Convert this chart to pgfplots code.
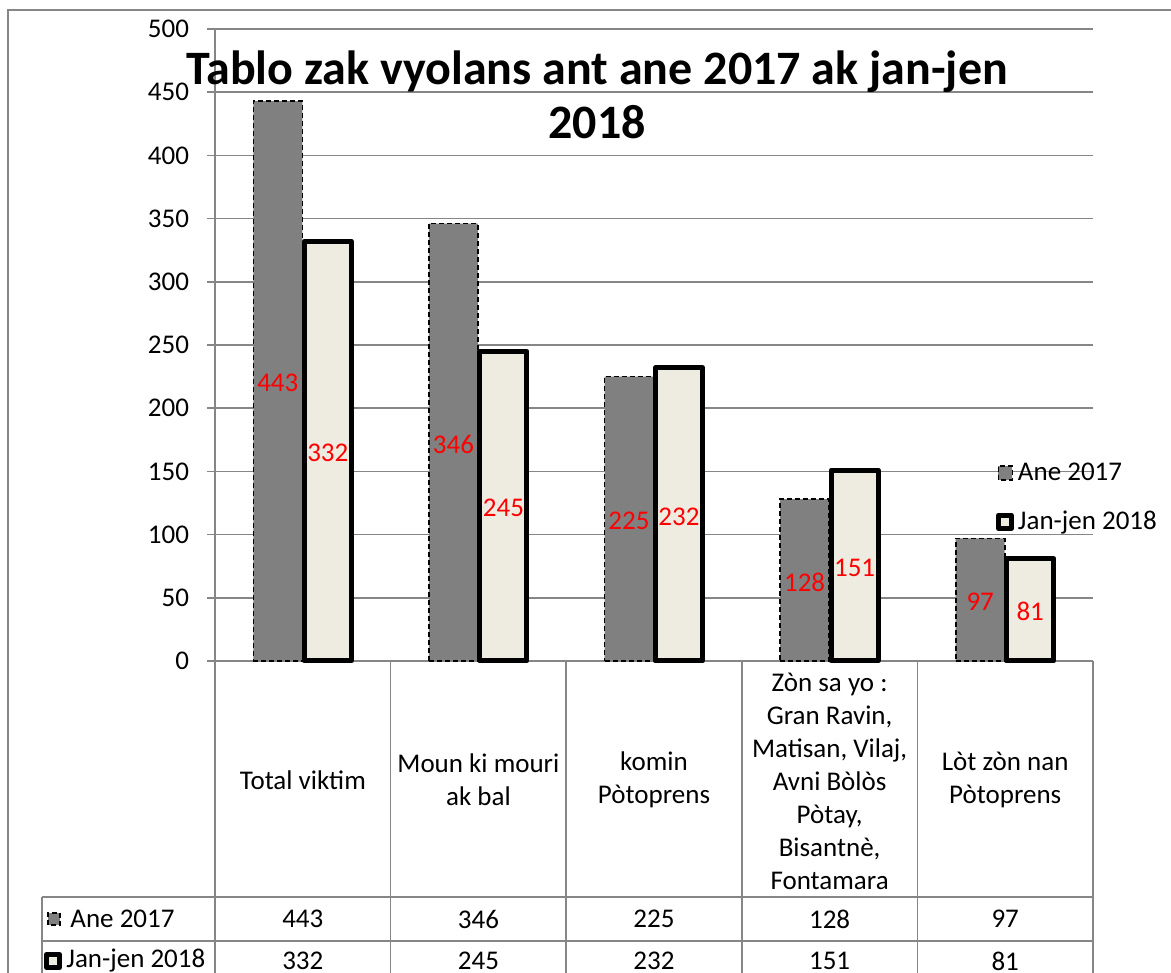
\documentclass[border=0pt]{standalone}
\usepackage{pgfplots}
\pgfplotsset{compat=1.18}
\usepackage{fontspec}
\setmainfont{Carlito}
\definecolor{gridgray}{RGB}{134,134,134}
\definecolor{bargray}{RGB}{128,128,128}
\definecolor{cream}{RGB}{238,236,225}
\newcommand{\tf}{\fontsize{13.5}{16.5}\selectfont}
\pgfplotsset{
  grayleg/.style={legend image code/.code={\draw[##1] (0pt,-3.5pt) rectangle (7pt,3.5pt);}},
  creamleg/.style={legend image code/.code={\draw[##1] (0pt,-3.25pt) rectangle (6.5pt,3.25pt);}},
}
\begin{document}
\begin{tikzpicture}[x=1pt,y=1pt]
\path[use as bounding box] (0,0) rectangle (585.5,486.5);
\draw[gridgray, line width=0.8pt] (4,-20) -- (4,481.5) -- (620,481.5);
\begin{axis}[
  at={(107.5pt,156pt)}, anchor=south west,
  scale only axis, width=439pt, height=316pt,
  xmin=-0.5, xmax=4.5, ymin=0, ymax=500,
  ytick={0,50,...,500}, xtick=\empty,
  axis lines=left, axis line style={-, draw=gridgray, line width=0.8pt},
  ymajorgrids, grid style={draw=gridgray, line width=0.8pt},
  tick style={draw=gridgray, line width=0.8pt},
  tick align=outside, major tick length=4pt,
  /pgf/number format/assume math mode=true,
  yticklabel style={font=\tf, xshift=-5.5pt},
  clip=false,
  ybar, bar width=24pt,
  nodes near coords,
  visualization depends on={y \as \rawy},
  every node near coord/.append style={font=\tf, text=red, anchor=center, yshift={-0.316*\rawy-1}},
  legend style={at={(0.889,0.321)}, anchor=north west, draw=none, fill=none, font=\tf, row sep=10pt, inner sep=0pt},
  legend cell align=left,
]
\addplot[fill=bargray, draw=black, line width=0.8pt, dash pattern=on 2.5pt off 1.5pt, bar width=24.5pt, bar shift=-12.5pt, grayleg] coordinates {(0,443) (1,346) (2,225) (3,128) (4,97)};
\addplot[fill=cream, draw=black, line width=2.5pt, line join=round, bar width=23.5pt, bar shift=12.5pt, creamleg] coordinates {(0,332) (1,245) (2,232) (3,151) (4,81)};
\legend{Ane 2017, Jan-jen 2018}
\end{axis}
\node[font=\fontsize{24}{27}\selectfont\bfseries, align=center] at (298.5,439) {Tablo zak vyolans ant ane 2017 ak jan-jen\\2018};
\begin{scope}[gridgray, line width=0.8pt]
\foreach \x in {195.3,283.1,370.9,458.7,546.5} \draw (\x,156) -- (\x,-20);
\draw (107.5,156) -- (107.5,-20);
\draw (21,38) -- (546.5,38);
\draw (21,16) -- (546.5,16);
\draw (21,38) -- (21,-20);
\end{scope}
\begin{scope}[every node/.style={font=\tf, align=center}]
\node at (151.4,96.5) {Total viktim};
\node at (239.2,96.5) {Moun ki mouri\\ak bal};
\node at (327.0,96.5) {komin\\Pòtoprens};
\node at (414.8,96) {Zòn sa yo :\\Gran Ravin,\\Matisan, Vilaj,\\Avni Bòlòs\\Pòtay,\\Bisantnè,\\Fontamara};
\node at (502.6,96.5) {Lòt zòn nan\\Pòtoprens};
\foreach \v [count=\i from 0] in {443,346,225,128,97} \node at (151.4+87.8*\i,27) {\v};
\foreach \v [count=\i from 0] in {332,245,232,151,81} \node at (151.4+87.8*\i,6) {\v};
\end{scope}
\draw[fill=bargray, draw=black, line width=0.8pt, dash pattern=on 2.5pt off 1.5pt] (24,24) rectangle (30,30);
\node[font=\tf, anchor=west, inner sep=0pt] at (35,27) {Ane 2017};
\draw[fill=cream, draw=black, line width=2.5pt, line join=round] (23.25,2.75) rectangle (29.75,9.25);
\node[font=\tf, anchor=west, inner sep=0pt] at (33,6) {Jan-jen 2018};
\end{tikzpicture}
\end{document}
